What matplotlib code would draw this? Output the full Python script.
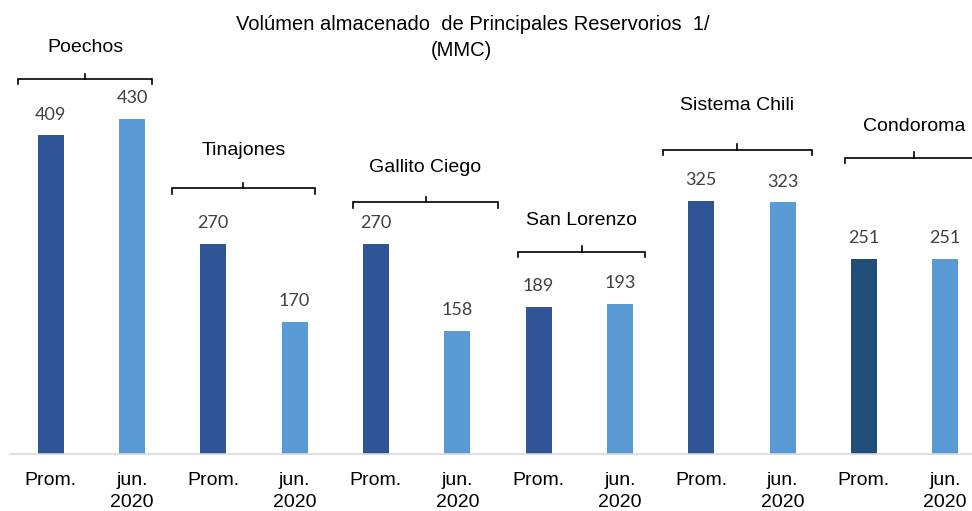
import matplotlib.pyplot as plt
import numpy as np

# data
reservoirs = ["Poechos", "Tinajones", "Gallito Ciego", "San Lorenzo", "Sistema Chili", "Condoroma"]
prom_values = [409, 270, 270, 189, 325, 251]
jun_values = [430, 170, 158, 193, 323, 251]
tick_labels = ["Prom.", "jun.\n2020"]

# layout of the group brackets (data units)
bracket_y = [481, 341, 323, 259, 391, 380]
label_y = [522, 390, 368, 300, 448, 420]
bracket_left = [-0.40, -0.51, -0.28, -0.25, -0.47, -0.23]
bracket_right = [0.25, 0.25, 0.50, 0.31, 0.36, 0.47]

dark = "#2F5597"
light = "#5B9BD5"
prom_colors = [dark] * 5 + ["#1F4E79"]

plt.rcParams['font.family'] = ['Liberation Sans', 'DejaVu Sans']

fig = plt.figure(figsize=(9.72, 5.11), dpi=100)
ax = fig.add_axes([10 / 972, 57 / 511, 962 / 972, 454 / 511])

n = len(reservoirs)
x_prom = np.arange(n) * 2
x_jun = x_prom + 1
width = 0.32

ax.bar(x_prom, prom_values, width=width, color=prom_colors)
ax.bar(x_jun, jun_values, width=width, color=light)

for xs, vals in [(x_prom, prom_values), (x_jun, jun_values)]:
    for xi, v in zip(xs, vals):
        ax.annotate(f"{v}", (xi, v), xytext=(0, 15), textcoords="offset points",
                    ha="center", va="center", fontsize=13, color="#404040",
                    family=["Lato", "DejaVu Sans"])

# brackets above each pair
tk = 6.5
for i in range(n):
    x0 = x_prom[i] + bracket_left[i]
    x1 = x_jun[i] + bracket_right[i]
    y = bracket_y[i]
    xm = (x0 + x1) / 2
    ax.plot([x0, x0, x1, x1], [y - tk, y, y, y - tk], c="k", lw=1.2, clip_on=False,
            solid_joinstyle="miter")
    ax.plot([xm, xm], [y, y + tk + 1], c="k", lw=1.2, clip_on=False)
    ax.text(xm, label_y[i], reservoirs[i], ha="center", va="center", fontsize=14,
            clip_on=False)

ticks = np.concatenate([x_prom, x_jun])
ax.set_xticks(ticks)
ax.set_xticklabels([tick_labels[0]] * n + [tick_labels[1]] * n, fontsize=14,
                   linespacing=1.35)
ax.tick_params(axis="x", length=0, pad=13)
ax.set_yticks([])
ax.set_xlim(-0.5, 11.33)
ax.set_ylim(0, 583)
for s in ["top", "right", "left"]:
    ax.spines[s].set_visible(False)
ax.spines["bottom"].set_color("#D9D9D9")
ax.spines["bottom"].set_linewidth(1.2)

fig.text(473 / 972, 1 - 25 / 511, "Volúmen almacenado  de Principales Reservorios  1/",
         ha="center", va="center", fontsize=14.5)
fig.text(461 / 972, 1 - 50 / 511, "(MMC)", ha="center", va="center", fontsize=14.5)

plt.savefig("out.png", dpi=100)
